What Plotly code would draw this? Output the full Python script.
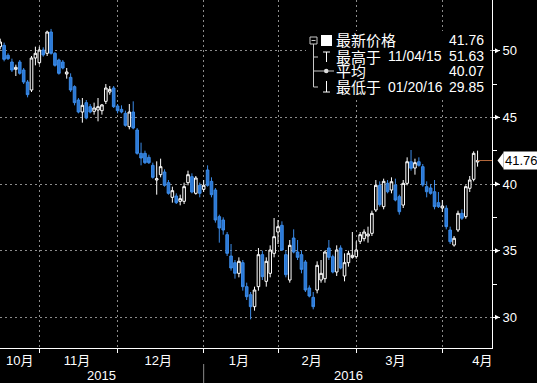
import plotly.graph_objects as go

# ---------------- data ----------------
oct_days = [16, 19, 20, 21, 22, 23, 26, 27, 28, 29, 30]
nov_days = [2, 3, 4, 5, 6, 9, 10, 11, 12, 13, 16, 17, 18, 19, 20, 23, 24, 25, 27, 30]
dec_days = [1, 2, 3, 4, 7, 8, 9, 10, 11, 14, 15, 16, 17, 18, 21, 22, 23, 24, 28, 29, 30, 31]
jan_days = [4, 5, 6, 7, 8, 11, 12, 13, 14, 15, 19, 20, 21, 22, 25, 26, 27, 28, 29]
feb_days = [1, 2, 3, 4, 5, 8, 9, 10, 11, 12, 16, 17, 18, 19, 22, 23, 24, 25, 26, 29]
mar_days = [1, 2, 3, 4, 7, 8, 9, 10, 11, 14, 15, 16, 17, 18, 21, 22, 23, 24, 28, 29, 30, 31]
apr_days = [1, 4, 5, 6, 7, 8, 11, 12, 13]
month_days = [(2015, 10, oct_days), (2015, 11, nov_days), (2015, 12, dec_days),
              (2016, 1, jan_days), (2016, 2, feb_days), (2016, 3, mar_days), (2016, 4, apr_days)]
dates = [f"{y}-{m:02d}-{d:02d}" for y, m, ds in month_days for d in ds]

open_ = [50.30, 50.40, 49.65, 49.15, 48.60, 49.15, 48.55, 47.65, 47.05, 49.45,
         49.10, 50.05, 49.80, 51.40, 49.80, 49.30, 49.15, 48.25, 48.00, 47.30,
         46.30, 45.40, 46.10, 45.80, 45.45, 45.55, 45.50, 46.20, 46.90, 47.20,
         45.85, 45.60, 45.30, 44.30, 45.40, 44.05, 42.30, 42.30, 42.00, 41.40,
         40.30, 40.70, 40.90, 40.10, 39.00, 39.10, 38.70, 38.70, 40.10, 40.55,
         39.30, 39.90, 39.60, 41.05, 40.20, 39.55, 37.55, 37.30, 36.20, 34.60,
         34.10, 33.30, 34.10, 32.30, 31.70, 30.80, 32.30, 34.70, 32.70, 33.30,
         34.80, 36.40, 36.90, 34.70, 32.80, 35.95, 34.90, 34.70, 34.15, 32.20,
         31.50, 32.05, 32.80, 32.90, 35.20, 34.55, 33.40, 35.20, 33.10, 34.10,
         34.50, 34.55, 35.70, 35.90, 36.10, 36.30, 38.05, 39.90, 38.30, 40.05,
         39.55, 39.93, 39.05, 38.42, 40.05, 41.67, 41.20, 41.67, 41.30, 39.80,
         39.70, 39.42, 38.60, 38.20, 38.18, 36.55, 35.42, 36.55, 37.80, 37.55,
         39.68, 40.35, 41.65]
high = [50.90, 50.60, 49.80, 49.40, 48.95, 49.30, 48.70, 47.80, 49.60, 50.30,
        50.30, 50.25, 51.50, 51.63, 49.90, 49.40, 49.30, 48.70, 48.30, 47.40,
        46.45, 46.45, 46.30, 46.00, 46.10, 46.45, 46.00, 47.50, 47.35, 47.35,
        46.00, 45.90, 45.50, 46.00, 46.20, 44.20, 43.10, 42.50, 42.20, 41.60,
        41.70, 41.90, 41.10, 40.30, 39.80, 39.30, 39.20, 40.10, 41.00, 40.80,
        40.60, 40.10, 40.30, 41.40, 40.50, 39.70, 37.70, 37.50, 36.40, 35.50,
        34.30, 34.50, 34.30, 32.60, 31.90, 32.30, 35.20, 35.00, 34.50, 35.40,
        37.45, 37.30, 37.20, 35.00, 35.80, 36.60, 35.80, 35.00, 34.30, 32.40,
        31.90, 34.20, 34.30, 35.00, 35.80, 34.70, 35.40, 35.40, 34.80, 35.00,
        36.40, 35.70, 36.40, 36.60, 36.80, 38.00, 40.30, 40.20, 40.40, 40.30,
        40.50, 40.40, 39.20, 40.30, 42.00, 42.55, 41.90, 42.00, 41.50, 40.20,
        40.00, 40.30, 39.40, 38.80, 38.40, 36.80, 36.10, 38.00, 38.10, 39.90,
        40.60, 42.45, 42.50]
low = [50.10, 49.20, 49.30, 48.40, 48.10, 48.20, 47.50, 46.50, 46.90, 48.90,
       48.95, 49.55, 49.60, 49.70, 48.80, 48.20, 48.60, 47.90, 46.90, 45.90,
       45.30, 44.60, 44.85, 45.30, 45.20, 44.70, 45.20, 46.00, 46.70, 45.70,
       45.30, 45.30, 44.30, 44.10, 44.10, 42.20, 41.40, 41.50, 41.50, 40.40,
       39.20, 40.50, 39.80, 39.20, 38.60, 38.50, 38.40, 38.50, 39.90, 39.30,
       39.20, 39.00, 39.40, 39.80, 39.00, 37.10, 35.60, 36.20, 34.60, 33.50,
       32.90, 33.00, 32.00, 31.30, 29.85, 30.50, 32.00, 32.80, 32.30, 33.00,
       34.50, 35.50, 35.00, 33.00, 32.60, 34.80, 34.30, 33.30, 31.90, 31.50,
       30.60, 31.80, 32.60, 32.60, 34.30, 33.30, 33.10, 33.60, 32.70, 33.80,
       34.40, 34.40, 35.50, 35.70, 35.60, 36.10, 37.90, 38.30, 38.10, 39.30,
       39.30, 38.70, 37.70, 38.20, 39.90, 41.00, 40.70, 41.30, 39.80, 39.00,
       39.20, 38.10, 38.20, 37.90, 36.60, 35.50, 35.30, 36.40, 37.30, 37.40,
       39.40, 40.20, 41.30]
close = [50.65, 49.35, 49.40, 48.55, 48.75, 48.30, 47.65, 46.70, 49.45, 49.80,
         50.05, 49.68, 51.40, 49.80, 48.90, 48.30, 48.70, 48.40, 47.05, 46.10,
         45.40, 45.90, 44.95, 45.40, 45.70, 45.80, 45.93, 47.20, 47.10, 45.80,
         45.50, 45.40, 44.40, 45.40, 44.20, 42.30, 41.95, 41.60, 41.60, 40.50,
         40.40, 41.30, 39.90, 39.30, 39.50, 38.60, 38.90, 39.80, 40.70, 39.40,
         40.45, 39.30, 39.90, 39.90, 39.20, 37.30, 36.70, 36.55, 34.80, 33.70,
         33.30, 34.20, 32.30, 31.55, 30.80, 32.05, 34.70, 33.05, 34.20, 35.05,
         36.05, 36.80, 35.05, 33.20, 35.40, 34.90, 34.50, 33.60, 32.05, 31.60,
         30.80, 33.90, 33.30, 34.90, 34.50, 33.40, 35.05, 33.70, 34.10, 34.80,
         34.65, 35.05, 36.20, 36.40, 36.25, 37.80, 39.90, 38.45, 40.20, 39.42,
         40.17, 38.80, 37.92, 40.05, 41.67, 41.18, 41.60, 41.40, 39.93, 39.42,
         39.30, 38.30, 38.30, 38.35, 36.80, 35.67, 35.93, 37.80, 37.43, 39.80,
         40.30, 42.30, 41.76]

month_labels = ["10月", "11月", "12月", "1月", "2月", "3月", "4月"]
month_label_pos = [5.0, 19.6, 40.4, 61.0, 79.6, 101.0, 123.2]
year_labels = ["2015", "2016"]
year_label_pos = [26.0, 89.0]
y_ticks = [30, 35, 40, 45, 50]
y_minor = [32.5, 37.5, 42.5, 47.5]

legend_names = ["最新价格", "最高于", "平均", "最低于"]
legend_dates = ["", "11/04/15", "", "01/20/16"]
legend_values = ["41.76", "51.63", "40.07", "29.85"]

# ---------------- layout geometry ----------------
W, H = 537, 383
ML, MR, MT, MB = 0, 45, 0, 35
PW, PH = W - ML - MR, H - MT - MB
x_range = [-0.05, 125.69]
y_range = [27.7, 53.8]
unit_px = PH / (y_range[1] - y_range[0])

def px(v):
    return (v - ML) / PW

def py(v):
    return (PH - (v - MT)) / PH

FONT = "Liberation Sans, Arial, Noto Sans CJK SC, sans-serif"
CJK = "Noto Sans CJK SC, Liberation Sans, sans-serif"

x = list(range(len(dates)))
# month boundaries: last trading day of each month
boundaries = [k for k in range(len(dates) - 1) if dates[k][5:7] != dates[k + 1][5:7]]

fig = go.Figure()
fig.add_trace(go.Candlestick(
    x=x, open=open_, high=high, low=low, close=close,
    text=dates, hoverinfo="text+y",
    increasing=dict(line=dict(color="#ffffff", width=1), fillcolor="#000000"),
    decreasing=dict(line=dict(color="#3b8ae6", width=1), fillcolor="#2a78d6"),
    whiskerwidth=0, showlegend=False,
))

shapes = []
annotations = []

# arrow heads on the y ticks
ah = 2.5 / unit_px
for t in y_ticks:
    shapes.append(dict(type="path", xref="paper", yref="y",
                       path=f"M {px(499.5)},{t} L {px(495)},{t + ah} L {px(495)},{t - ah} Z",
                       fillcolor="#ffffff", line=dict(width=0)))

# last price line
last = close[-1]
shapes.append(dict(type="line", xref="x", yref="y", x0=x[-1], x1=x_range[1],
                   y0=last, y1=last, line=dict(color="#b5693c", width=1)))
# price label arrow
dy = 8 / unit_px
shapes.append(dict(type="path", xref="paper", yref="y",
                   path=f"M {px(497.5)},{last} L {px(503.5)},{last + dy} L {px(503.5)},{last - dy} Z",
                   fillcolor="#ffffff", line=dict(width=0)))
annotations.append(dict(xref="paper", yref="y", x=1.0, y=last, xanchor="left", yanchor="middle",
                        xshift=11, text=f"{last:.2f}", showarrow=False,
                        font=dict(family=FONT, size=13, color="#000000"),
                        bgcolor="#ffffff", borderpad=1))

# year separator & labels
shapes.append(dict(type="line", xref="x", yref="paper", x0=boundaries[2], x1=boundaries[2],
                   y0=py(364), y1=py(383), line=dict(color="#8a8a8a", width=1)))
for lab, pos in zip(year_labels, year_label_pos):
    annotations.append(dict(xref="x", yref="paper", x=pos, y=py(375), text=lab, showarrow=False,
                            xanchor="center", yanchor="middle",
                            font=dict(family=FONT, size=13, color="#ffffff")))

# legend box
shapes.append(dict(type="rect", xref="paper", yref="paper", x0=px(306), x1=px(487),
                   y0=py(31), y1=py(99), fillcolor="#000000", line=dict(width=0), layer="above"))
gray = "#c8c8c8"
# tree icon
shapes.append(dict(type="rect", xref="paper", yref="paper", x0=px(310), x1=px(317), y0=py(37), y1=py(44),
                   line=dict(color=gray, width=1)))
shapes.append(dict(type="line", xref="paper", yref="paper", x0=px(311.5), x1=px(315.5), y0=py(40.5), y1=py(40.5),
                   line=dict(color=gray, width=1)))
shapes.append(dict(type="line", xref="paper", yref="paper", x0=px(313.5), x1=px(313.5), y0=py(44), y1=py(87),
                   line=dict(color=gray, width=1)))
for ry in [57, 71, 87]:
    shapes.append(dict(type="line", xref="paper", yref="paper", x0=px(313.5), x1=px(318), y0=py(ry), y1=py(ry),
                       line=dict(color=gray, width=1)))
# row icons
shapes.append(dict(type="rect", xref="paper", yref="paper", x0=px(321), x1=px(332), y0=py(35), y1=py(46),
                   fillcolor="#ffffff", line=dict(width=0)))
shapes.append(dict(type="line", xref="paper", yref="paper", x0=px(323), x1=px(330), y0=py(52), y1=py(52),
                   line=dict(color="#ffffff", width=1)))
shapes.append(dict(type="line", xref="paper", yref="paper", x0=px(326.5), x1=px(326.5), y0=py(52), y1=py(62),
                   line=dict(color="#ffffff", width=1)))
shapes.append(dict(type="line", xref="paper", yref="paper", x0=px(318), x1=px(334), y0=py(71), y1=py(71),
                   line=dict(color=gray, width=1)))
shapes.append(dict(type="circle", xref="paper", yref="paper", x0=px(324), x1=px(328.5), y0=py(68.8), y1=py(73.3),
                   fillcolor="#dddddd", line=dict(width=0)))
shapes.append(dict(type="line", xref="paper", yref="paper", x0=px(326.5), x1=px(326.5), y0=py(81), y1=py(92),
                   line=dict(color="#ffffff", width=1)))
shapes.append(dict(type="line", xref="paper", yref="paper", x0=px(323), x1=px(330), y0=py(92), y1=py(92),
                   line=dict(color="#ffffff", width=1)))

row_y = [40, 56.5, 71, 86.5]
for name, dt, val, ry in zip(legend_names, legend_dates, legend_values, row_y):
    annotations.append(dict(xref="paper", yref="paper", x=px(335), y=py(ry), text=name, showarrow=False,
                            xanchor="left", yanchor="middle", borderpad=0,
                            font=dict(family=CJK, size=15, color="#ffffff")))
    if dt:
        annotations.append(dict(xref="paper", yref="paper", x=px(387), y=py(ry), text=dt, showarrow=False,
                                xanchor="left", yanchor="middle", borderpad=0,
                                font=dict(family=FONT, size=14, color="#ffffff")))
    annotations.append(dict(xref="paper", yref="paper", x=px(485), y=py(ry), text=val, showarrow=False,
                            xanchor="right", yanchor="middle", borderpad=0,
                            font=dict(family=FONT, size=14, color="#ffffff")))

fig.update_layout(
    width=W, height=H,
    margin=dict(l=ML, r=MR, t=MT, b=MB, pad=0),
    paper_bgcolor="#000000", plot_bgcolor="#000000",
    font=dict(family=FONT, size=13, color="#ffffff"),
    showlegend=False, boxgap=0.05,
    xaxis=dict(
        type="linear", range=x_range, rangeslider=dict(visible=False),
        tickmode="array", tickvals=month_label_pos, ticktext=month_labels, ticks="",
        showgrid=False, zeroline=False,
        showline=True, linecolor="#ffffff", linewidth=1,
        tickfont=dict(family=FONT, size=13, color="#ffffff"),
        minor=dict(tickmode="array", tickvals=boundaries, ticks="outside", ticklen=4,
                   tickcolor="#ffffff", showgrid=True, gridcolor="#8c8c8c", griddash="2px,3px", gridwidth=1),
    ),
    yaxis=dict(
        side="right", range=y_range, tickmode="array", tickvals=y_ticks,
        ticks="outside", ticklen=7, tickcolor="#ffffff", tickwidth=1,
        showgrid=True, gridcolor="#8c8c8c", griddash="2px,3px", gridwidth=1, zeroline=False,
        showline=True, linecolor="#ffffff", linewidth=1,
        tickfont=dict(family=FONT, size=13, color="#ffffff"),
        minor=dict(tickmode="array", tickvals=y_minor, ticks="outside", ticklen=4,
                   tickcolor="#ffffff", showgrid=False),
    ),
    shapes=shapes, annotations=annotations,
)

fig.write_html("out.html")
